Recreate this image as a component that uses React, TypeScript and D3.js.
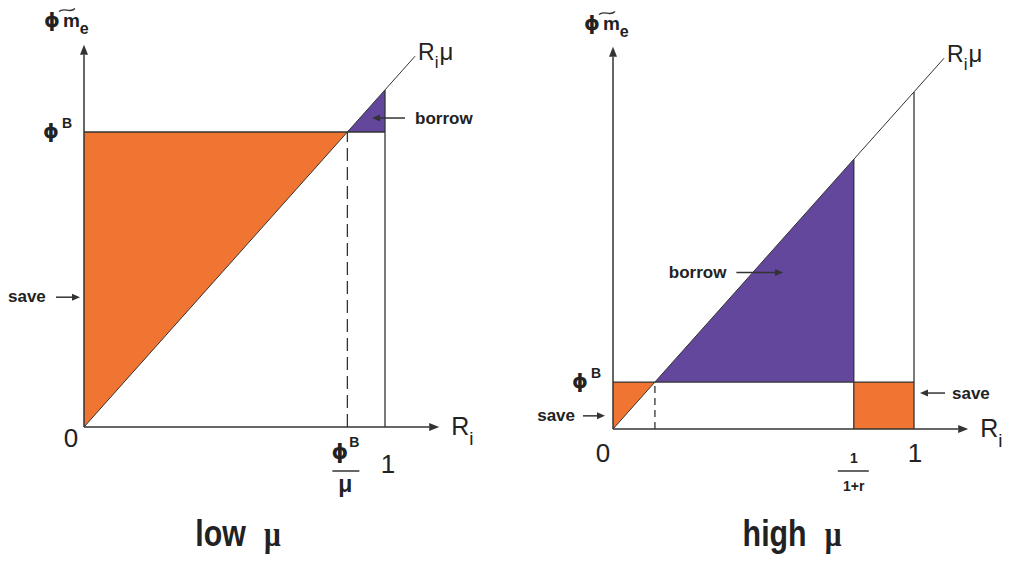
import * as d3 from "d3";
import React from "react";

// panel captions
const panelTitles = ["low", "high"];
// slope of the R_i·μ line in each panel
const muValues = [1.12, 1.12];
// φ^B level in each panel
const phiB = [0.98, 0.156];
// 1/(1+r) cut-off, null when it sits at R_i = 1
const cutoffs: (number | null)[] = [null, 0.8];
const lineEnd = 1.1;
const xAxisMax = 1.18;
const yAxisMax = 1.27;

const ORANGE = "#F07533";
const PURPLE = "#63479C";
const INK = "#333";
const FONT = "'Liberation Sans', Arial, sans-serif";

const layouts = [
  { ox: 84, oy: 427, unit: 301, titleX: 238, ylabX: 44, ylabY: 27, zero: [-13, 20], one: [3, 46] },
  { ox: 613, oy: 429, unit: 301, titleX: 792, ylabX: 584, ylabY: 30, zero: [-10, 33], one: [1, 33] },
];

const arrow = (x1: number, y1: number, x2: number, y2: number, size = 8, half = 3.5) => {
  const a = Math.atan2(y2 - y1, x2 - x1);
  const bx = x2 - size * Math.cos(a);
  const by = y2 - size * Math.sin(a);
  const nx = -Math.sin(a) * half;
  const ny = Math.cos(a) * half;
  return (
    <g>
      <line x1={x1} y1={y1} x2={bx} y2={by} stroke={INK} strokeWidth={1.5} />
      <path d={`M${x2},${y2}L${bx + nx},${by + ny}L${bx - nx},${by - ny}Z`} fill={INK} />
    </g>
  );
};

const Panel = ({ i }: { i: number }) => {
  const L = layouts[i];
  const mu = muValues[i];
  const phi = phiB[i];
  const cut = cutoffs[i] ?? 1;
  const xi = phi / mu;

  const x = d3.scaleLinear().domain([0, 1]).range([L.ox, L.ox + L.unit]);
  const y = d3.scaleLinear().domain([0, 1]).range([L.oy, L.oy - L.unit]);
  const line = d3
    .line<[number, number]>()
    .x((d) => x(d[0]))
    .y((d) => y(d[1]));

  const lbl = { fontFamily: FONT, fill: "#222" };
  // tilde over the m of the y label
  const tx = L.ylabX + 15;
  const ty = L.ylabY - 17;
  const tw = 16;

  return (
    <g>
      {/* regions */}
      <path d={line([[0, 0], [0, phi], [xi, phi]]) + "Z"} fill={ORANGE} />
      <path d={line([[xi, phi], [cut, cut * mu], [cut, phi]]) + "Z"} fill={PURPLE} />
      {cut < 1 && <path d={line([[cut, 0], [cut, phi], [1, phi], [1, 0]]) + "Z"} fill={ORANGE} />}

      {/* guide lines */}
      <path d={line([[0, phi], [1, phi]])!} stroke={INK} strokeWidth={1.3} fill="none" />
      <path d={line([[cut, 0], [cut, cut * mu]])!} stroke={INK} strokeWidth={1.3} fill="none" />
      {cut < 1 && <path d={line([[1, 0], [1, mu]])!} stroke={INK} strokeWidth={1.3} fill="none" />}
      <path
        d={line([[xi, 0], [xi, phi]])!}
        stroke={INK}
        strokeWidth={1.3}
        strokeDasharray={i === 0 ? "13,6" : "7,5"}
        fill="none"
      />
      <path d={line([[0, 0], [lineEnd, lineEnd * mu]])!} stroke={INK} strokeWidth={1} fill="none" />

      {/* axes */}
      {arrow(x(0), y(0), x(xAxisMax), y(0), 10, 4)}
      {arrow(x(0), y(0), x(0), y(yAxisMax), 10, 4)}

      {/* axis labels */}
      <text x={L.ylabX} y={L.ylabY} {...lbl} fontSize={20} fontWeight="bold">
        <tspan fontFamily="'DejaVu Sans', sans-serif">ϕ</tspan>
        <tspan dx={3} fontSize={19}>m</tspan>
        <tspan dy={7} fontSize={16}>e</tspan>
      </text>
      <path
        d={`M${tx},${ty + 1.5}C${tx + tw / 3},${ty - 3.5} ${tx + (2 * tw) / 3},${ty + 4} ${tx + tw},${ty - 1.5}`}
        stroke={INK}
        strokeWidth={1.3}
        fill="none"
      />
      <text x={x(lineEnd) + 3} y={y(lineEnd * mu) + 4} {...lbl} fontSize={23}>
        R<tspan fontSize={17} dy={8}>i</tspan>
        <tspan fontSize={24} dy={-8} dx={1}>μ</tspan>
      </text>
      <text x={x(xAxisMax) + 12} y={y(0) + 8} {...lbl} fontSize={25}>
        R<tspan fontSize={19} dy={10}>i</tspan>
      </text>
      <text x={x(0) - 12} y={y(phi) + 6} {...lbl} textAnchor="end" fontWeight="bold" fontSize={20}>
        <tspan fontFamily="'DejaVu Sans', sans-serif">ϕ</tspan>
        <tspan fontSize={14} dy={-10} dx={3}>B</tspan>
      </text>
      <text x={x(0) + L.zero[0]} y={y(0) + L.zero[1]} {...lbl} fontSize={26} textAnchor="middle">0</text>
      <text x={x(1) + L.one[0]} y={y(0) + L.one[1]} {...lbl} fontSize={26} textAnchor="middle">1</text>

      {/* fraction tick */}
      {i === 0 ? (
        <g>
          <text x={x(xi) - 2} y={y(0) + 32} {...lbl} fontSize={21} fontWeight="bold" textAnchor="middle">
            <tspan fontFamily="'DejaVu Sans', sans-serif">ϕ</tspan>
            <tspan fontSize={14} dy={-12} dx={1}>B</tspan>
          </text>
          <line x1={x(xi) - 15} x2={x(xi) + 12} y1={y(0) + 44} y2={y(0) + 44} stroke={INK} strokeWidth={1.5} />
          <text x={x(xi) - 2} y={y(0) + 65} {...lbl} fontSize={23} fontWeight="bold" textAnchor="middle">μ</text>
        </g>
      ) : (
        <g>
          <text x={x(cut)} y={y(0) + 34} {...lbl} fontSize={14} fontWeight="bold" textAnchor="middle">1</text>
          <line x1={x(cut) - 16} x2={x(cut) + 15} y1={y(0) + 42} y2={y(0) + 42} stroke={INK} strokeWidth={1.5} />
          <text x={x(cut)} y={y(0) + 62} {...lbl} fontSize={14} fontWeight="bold" textAnchor="middle">1+r</text>
        </g>
      )}

      {/* annotations */}
      {i === 0 ? (
        <g>
          {arrow(x(1) + 20, y(phi) - 14, x(1) - 13, y(phi) - 14)}
          <text x={x(1) + 30} y={y(phi) - 8} {...lbl} fontSize={17} fontWeight="bold">borrow</text>
          {arrow(x(0) - 28, y(0.44 * phi), x(0) - 4, y(0.44 * phi))}
          <text x={x(0) - 76} y={y(0.44 * phi) + 5} {...lbl} fontSize={17} fontWeight="bold">save</text>
        </g>
      ) : (
        <g>
          {arrow(x(0.41), y(0.52), x(0.565), y(0.52))}
          <text x={x(0.41) - 10} y={y(0.52) + 6} {...lbl} fontSize={17} fontWeight="bold" textAnchor="end">borrow</text>
          {arrow(x(0) - 30, y(0.28 * phi), x(0) - 8, y(0.28 * phi))}
          <text x={x(0) - 38} y={y(0.28 * phi) + 5} {...lbl} fontSize={17} fontWeight="bold" textAnchor="end">save</text>
          {arrow(x(1) + 31, y(phi) + 11, x(1) + 6, y(phi) + 11)}
          <text x={x(1) + 38} y={y(phi) + 17} {...lbl} fontSize={17} fontWeight="bold">save</text>
        </g>
      )}

      {/* caption */}
      <g transform={`translate(${L.titleX},546) scale(0.82,1)`}>
        <text x={0} y={0} {...lbl} fontSize={37} fontWeight="bold" textAnchor="middle">
          {panelTitles[i]}
          <tspan dx={22} fontFamily="'Liberation Serif', serif" fontSize={36}>μ</tspan>
        </text>
      </g>
    </g>
  );
};

export default function App() {
  return (
    <svg
      width={1011}
      height={561}
      viewBox="0 0 1011 561"
      style={{ position: "absolute", left: 0, top: 0, background: "#fff" }}
    >
      {panelTitles.map((_, i) => (
        <Panel key={i} i={i} />
      ))}
    </svg>
  );
}
